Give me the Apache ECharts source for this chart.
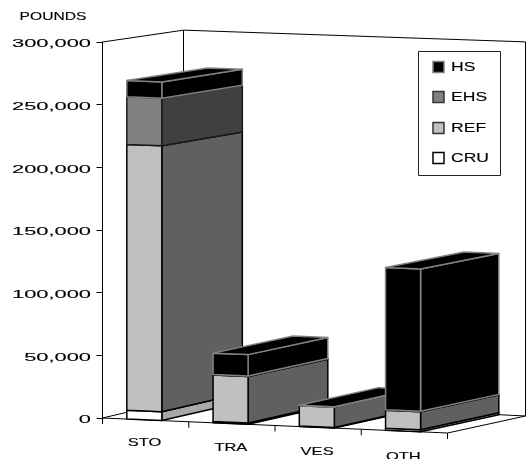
<!DOCTYPE html>
<html><head><meta charset="utf-8">
<style>html,body{margin:0;padding:0;background:#fff}#c{width:527px;height:459px}</style>
<script src="https://cdn.jsdelivr.net/npm/echarts@6/dist/echarts.min.js"></script>
</head><body><div id="c"></div>
<script>
const categories = ['STO', 'TRA', 'VES', 'OTH'];
const stackNames = ['CRU', 'REF', 'EHS', 'HS'];
const CRU = [7000, 1000, 500, 1600];
const REF = [212000, 37000, 16000, 14400];
const EHS = [38000, 500, 0, 300];
const HS  = [13000, 17000, 500, 113000];
const tickValues = [0, 50000, 100000, 150000, 200000, 250000, 300000];
const tickLabels = ['0', '50,000', '100,000', '150,000', '200,000', '250,000', '300,000'];
const yTitle = 'POUNDS';

const frontColors = ['#ffffff', '#c0c0c0', '#808080', '#000000'];
const sideColors  = ['#a8a8a8', '#606060', '#404040', '#000000'];
const edgeColors  = ['#000000', '#000000', '#1a1a1a', '#808080'];
const FONT = '"Liberation Sans", Arial, sans-serif';

const stackRows = [CRU, REF, EHS, HS];
const rows = [];
categories.forEach((c, i) => {
  let base = 0;
  const lastIdx = stackRows.reduce((m, r, j) => r[i] > 0 ? j : m, 0);
  stackRows.forEach((r, j) => {
    if (r[i] > 0) rows.push([i, j, base, base + r[i], j === lastIdx ? 1 : 0]);
    base += r[i];
  });
});

// oblique view of the plot box: offsets of the box corners relative to the front-left floor corner
const VIEW = { backDx: 81, backW: 342, yFR: 15, yBL: -19, yBR: -2, hFL: 1, hFR: 1.005, hBL: 0.981, hBR: 0.995 };
function projector(g) {
  const bottom = g.y + g.height;
  return function (px, py, d) {
    const U = (px - g.x) / g.width, T = (bottom - py) / g.height;
    const xf = g.x + U * g.width, xb = g.x + VIEW.backDx + U * VIEW.backW;
    const yf = bottom + U * VIEW.yFR, ybk = bottom + VIEW.yBL + U * (VIEW.yBR - VIEW.yBL);
    const hf = VIEW.hFL + U * (VIEW.hFR - VIEW.hFL), hb = VIEW.hBL + U * (VIEW.hBR - VIEW.hBL);
    const yb = yf + (ybk - yf) * d, h = (hf + (hb - hf) * d) * g.height;
    return [xf + (xb - xf) * d, yb - T * h];
  };
}
function wideText(text, x, y, size, sx, align) {
  return { type: 'text', x: x, y: y, scaleX: sx, silent: true,
    style: { text: text, x: 0, y: 0, fill: '#000', stroke: '#000', lineWidth: 0.12, font: size + 'px ' + FONT, align: align || 'center', verticalAlign: 'middle', textAlign: align || 'center', textVerticalAlign: 'middle' } };
}
function line(a, b, w) {
  return { type: 'line', silent: true, shape: { x1: a[0], y1: a[1], x2: b[0], y2: b[1] }, style: { stroke: '#000', lineWidth: w || 1 } };
}

function renderFrame(params, api) {
  const g = params.coordSys, P = projector(g);
  const L = g.x, R = g.x + g.width, B = g.y + g.height, T = g.y;
  const kids = [
    line(P(L, T, 0), P(L, T, 1)), line(P(L, T, 1), P(R, T, 1)),
    line(P(L, T, 1), P(L, B, 1)), line(P(R, T, 1), P(R, B, 1)),
    line(P(L, B, 0), P(L, B, 1)), line(P(L, B, 1), P(R, B, 1)),
    line(P(L, B, 0), P(R, B, 0)), line(P(R, B, 0), P(R, B, 1))
  ];
  for (let i = 0; i <= categories.length; i++) {
    const x = L + i * g.width / categories.length, p = P(x, B, 0);
    kids.push(line(p, [p[0], p[1] + 6]));
  }
  categories.forEach((c, i) => {
    const x = api.coord([i, 0])[0], p = P(x, B, 0);
    kids.push(wideText(c, p[0] - 1, p[1] + 23 + i, 11, 1.5));
  });
  tickValues.forEach((v, i) => {
    kids.push(wideText(tickLabels[i], g.x - 11.5, api.coord([0, v])[1] + 2, 11.5, 1.9, 'right'));
  });
  kids.push(wideText(yTitle, 53, 17, 11, 1.42));
  return { type: 'group', children: kids };
}

function renderBar(params, api) {
  const g = params.coordSys, P = projector(g), row = rows[params.dataIndex];
  const i = row[0], j = row[1];
  const cx = api.coord([i, 0])[0] - 1.3, hw = api.size([1, 0])[0] * 0.203;
  const y0 = api.coord([i, row[2]])[1], y1 = api.coord([i, row[3]])[1];
  const l = cx - hw, r = cx + hw;
  const st = (fill) => ({ fill: fill, stroke: edgeColors[j], lineWidth: 1.5, lineJoin: 'round' });
  const kids = [
    { type: 'polygon', shape: { points: [P(r, y0, 0), P(r, y0, 1), P(r, y1, 1), P(r, y1, 0)] }, style: st(sideColors[j]) },
    { type: 'polygon', shape: { points: [P(l, y0, 0), P(r, y0, 0), P(r, y1, 0), P(l, y1, 0)] }, style: st(frontColors[j]) }
  ];
  if (row[4]) kids.push({ type: 'polygon', shape: { points: [P(l, y1, 0), P(r, y1, 0), P(r, y1, 1), P(l, y1, 1)] }, style: { fill: '#000', stroke: '#808080', lineWidth: 1.5, lineJoin: 'round' } });
  return { type: 'group', children: kids };
}

function renderLegend() {
  const kids = [{ type: 'rect', silent: true, shape: { x: 418.5, y: 51.5, width: 82, height: 124 }, style: { fill: '#fff', stroke: '#222', lineWidth: 1 } }];
  const ys = [67, 97, 128, 158];
  stackNames.slice().reverse().forEach((n, k) => {
    const j = stackNames.length - 1 - k;
    kids.push({ type: 'rect', silent: true, shape: { x: 433, y: ys[k] - 5.5, width: 11, height: 11 },
      style: { fill: frontColors[j], stroke: j === 3 ? '#808080' : (j === 0 ? '#000' : '#333'), lineWidth: 1.5 } });
    kids.push(wideText(n, 451, ys[k], 13, 1.35, 'left'));
  });
  return { type: 'group', children: kids };
}

const chart = echarts.init(document.getElementById('c'), null, { renderer: 'canvas' });
chart.setOption({
  animation: false,
  backgroundColor: '#ffffff',
  grid: { left: 102.5, top: 42, width: 345, height: 376, containLabel: false },
  xAxis: { type: 'category', data: categories, axisLine: { show: false }, axisTick: { show: false }, axisLabel: { show: false }, splitLine: { show: false } },
  yAxis: { type: 'value', min: 0, max: 300000, interval: 50000,
    axisLine: { show: true, lineStyle: { color: '#000', width: 1 } },
    axisTick: { show: true, length: 6, lineStyle: { color: '#000', width: 1 } },
    axisLabel: { show: false }, splitLine: { show: false } },
  series: [
    { type: 'custom', name: 'frame', clip: false, silent: true, data: [[0, 0]], renderItem: renderFrame, z: 1 },
    { type: 'custom', name: 'bars', clip: false, silent: true, data: rows, encode: { x: 0, y: 3 }, renderItem: renderBar, z: 2 },
    { type: 'custom', name: 'legend', clip: false, silent: true, data: [[0, 0]], renderItem: renderLegend, z: 3 }
  ]
});
</script></body></html>
